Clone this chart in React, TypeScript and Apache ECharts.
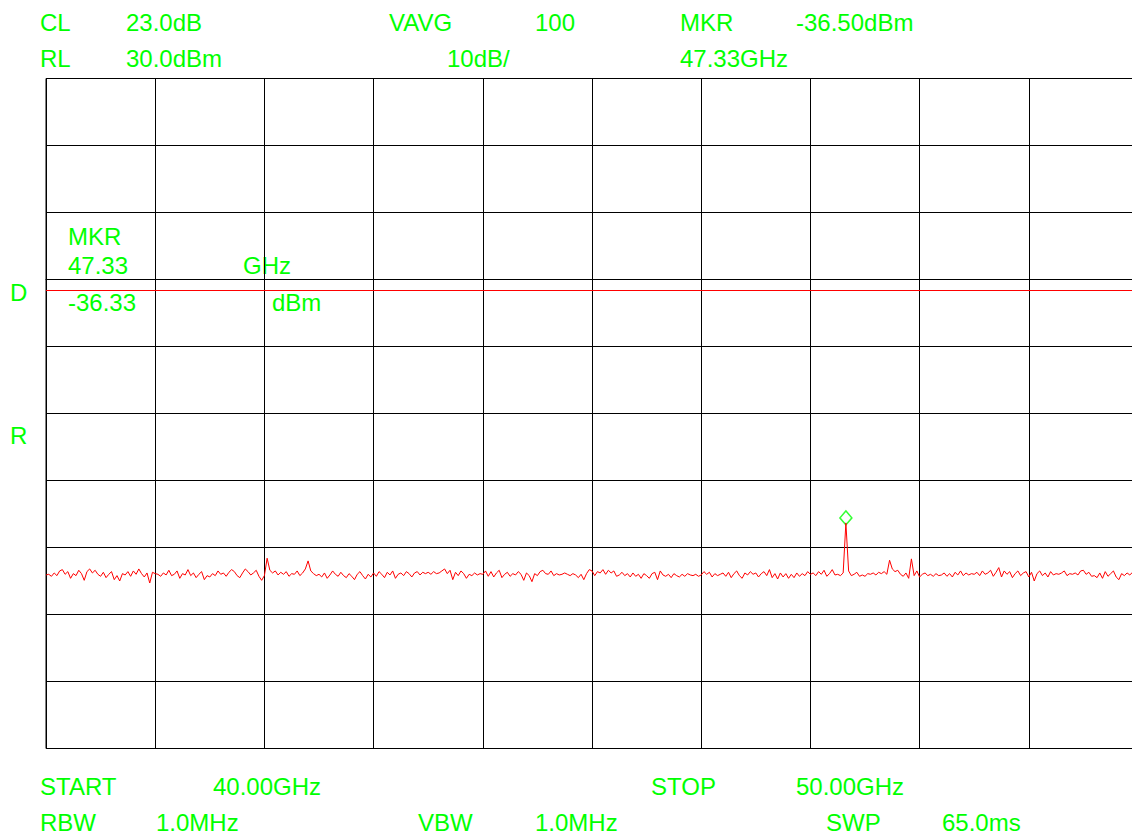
import React, { useEffect, useRef } from "react";
import * as echarts from "echarts";

// ---- instrument settings ----
const startGHz = 40;
const stopGHz = 50;
const refLevelDbm = 30;
const bottomDbm = -70;
const dbPerDiv = 10;
const freqPerDivGHz = 1;
const displayLineDbm = -1.6;
const markerIndex = 293;
const markerDbm = -36.33;

// ---- measured trace (dBm), 401 sweep points from START to STOP ----
const traceDbm = [
  -44.1, -44.0, -44.3, -43.8, -44.2, -43.5, -43.3, -44.0, -43.6, -44.6, -43.9, -44.2, -43.4, -43.9, -44.9, -43.6, -43.2, -43.8, -43.4, -44.0,
  -44.3, -43.7, -44.5, -44.0, -43.6, -44.8, -44.2, -45.0, -43.9, -44.1, -43.6, -44.3, -43.5, -44.0, -43.2, -43.9, -44.4, -43.8, -45.3, -43.7,
  -43.9, -44.0, -44.3, -43.8, -44.1, -43.4, -44.2, -44.0, -43.5, -44.6, -43.9, -44.1, -43.3, -44.2, -43.8, -44.5, -44.0, -43.6, -44.8, -44.2,
  -44.4, -43.9, -44.2, -43.5, -44.0, -43.8, -44.3, -43.7, -43.3, -43.6, -44.2, -44.5, -43.8, -43.2, -43.6, -44.1, -43.8, -43.4, -44.3, -44.9,
  -44.2, -41.6, -43.4, -43.8, -43.5, -44.1, -43.7, -44.0, -43.6, -44.3, -43.9, -44.0, -43.5, -44.2, -43.8, -43.2, -42.0, -43.5, -43.9, -44.2,
  -44.0, -44.4, -43.8, -44.6, -44.1, -43.5, -44.0, -44.3, -43.7, -44.2, -44.5, -43.9, -44.3, -44.8, -44.0, -43.6, -44.2, -44.7, -44.0, -44.4,
  -43.8, -44.3, -43.6, -44.0, -44.5, -43.7, -44.1, -43.5, -44.6, -44.0, -43.8, -44.2, -43.6, -43.9, -44.4, -43.8, -43.6, -44.1, -43.7, -43.9,
  -43.7, -44.0, -43.6, -43.9, -43.8, -43.5, -43.2, -43.9, -43.4, -44.8, -43.7, -44.2, -43.5, -43.9, -44.6, -44.0, -44.2, -43.8, -44.1, -43.9,
  -44.0, -43.5, -44.3, -43.6, -44.4, -43.8, -43.4, -44.5, -44.0, -43.7, -44.3, -43.9, -44.1, -43.6, -44.0, -44.9, -43.8, -44.2, -45.1, -43.9,
  -44.2, -43.6, -43.4, -43.9, -44.0, -43.5, -44.2, -43.9, -44.1, -44.0, -43.8, -44.0, -44.2, -43.9, -44.1, -44.5, -44.0, -44.8, -43.9, -43.3,
  -43.5, -44.2, -43.6, -43.8, -43.3, -44.0, -43.4, -43.8, -43.5, -44.3, -44.1, -43.7, -44.2, -43.9, -44.4, -43.8, -44.3, -44.0, -44.6, -43.9,
  -44.2, -44.6, -43.9, -43.7, -44.8, -43.5, -44.1, -44.3, -44.0, -44.5, -43.9, -44.2, -44.4, -44.0, -44.3, -43.9, -44.1, -44.2, -44.0, -44.3,
  -44.1, -43.6, -44.0, -43.7, -44.4, -43.9, -44.2, -44.0, -43.8, -44.3, -43.7, -44.5, -43.9, -43.5, -44.2, -44.6, -43.8, -44.1, -43.6, -44.0,
  -43.8, -44.4, -43.9, -43.6, -44.2, -43.3, -44.5, -43.9, -44.7, -43.8, -44.4, -43.9, -44.6, -44.0, -44.5, -43.8, -44.3, -43.9, -44.2, -43.6,
  -44.0, -43.8, -44.2, -43.6, -44.0, -43.4, -44.3, -43.9, -43.3, -44.1, -44.0, -44.2, -43.8, -36.33, -43.5, -44.2, -44.0, -43.7, -44.3, -44.1,
  -44.3, -43.9, -44.0, -43.8, -44.1, -43.7, -43.9, -43.6, -44.0, -41.9, -43.2, -43.6, -43.4, -44.0, -44.3, -43.8, -44.6, -41.7, -44.2, -43.5,
  -44.4, -44.0, -43.8, -44.2, -44.0, -44.3, -43.9, -44.2, -44.1, -43.8, -44.3, -43.9, -44.4, -43.7, -44.1, -43.5, -44.2, -43.8, -44.1, -43.9,
  -44.0, -43.7, -44.2, -43.5, -44.0, -43.8, -43.4, -44.3, -43.7, -43.0, -44.4, -43.5, -44.0, -43.6, -44.5, -43.9, -43.5, -44.2, -43.8, -43.6,
  -44.4, -43.7, -45.0, -43.9, -43.5, -44.2, -43.8, -44.4, -43.6, -44.1, -43.9, -44.0, -43.8, -43.5, -44.2, -43.9, -44.0, -43.8, -44.1, -43.5,
  -43.4, -44.0, -43.7, -44.3, -44.2, -44.5, -43.8, -44.6, -43.6, -44.3, -43.9, -43.5, -44.4, -44.8, -43.9, -44.2, -43.8, -44.1, -43.7, -44.0,
  -44.0,
];

// ---- annotation texts ----
const topRow1 = ["CL", "23.0dB", "VAVG", "100", "MKR", "-36.50dBm"];
const topRow2 = ["RL", "30.0dBm", "10dB/", "47.33GHz"];
const markerBox = ["MKR", "47.33", "GHz", "-36.33", "dBm"];
const sideLabels = ["D", "R"];
const bottomRow1 = ["START", "40.00GHz", "STOP", "50.00GHz"];
const bottomRow2 = ["RBW", "1.0MHz", "VBW", "1.0MHz", "SWP", "65.0ms"];

const GREEN = "#00ff00";
const FONT = '24px "Liberation Sans", Arial, sans-serif';

function txt(text: string, x: number, y: number) {
  return {
    type: "text",
    x,
    y,
    silent: true,
    style: { text, fill: GREEN, font: FONT, textVerticalAlign: "middle", textAlign: "left" },
  };
}

export default function App() {
  const ref = useRef<HTMLDivElement>(null);

  useEffect(() => {
    if (!ref.current) return;
    const chart = echarts.init(ref.current, null, { renderer: "svg" });
    const n = traceDbm.length;
    const step = (stopGHz - startGHz) / (n - 1);
    const data = traceDbm.map((v, i) => [startGHz + i * step, v]);
    const markerFreq = startGHz + markerIndex * step;

    const r1x = [40, 126, 389, 535, 680, 796];
    const r2x = [40, 126, 447, 680];
    const b1x = [40, 213, 651, 796];
    const b2x = [40, 156, 418, 535, 826, 942];

    const graphics: any[] = [];
    topRow1.forEach((t, i) => graphics.push(txt(t, r1x[i], 22)));
    topRow2.forEach((t, i) => graphics.push(txt(t, r2x[i], 58)));
    graphics.push(txt(markerBox[0], 68, 236));
    graphics.push(txt(markerBox[1], 68, 265));
    graphics.push(txt(markerBox[2], 243, 265));
    graphics.push(txt(markerBox[3], 68, 302));
    graphics.push(txt(markerBox[4], 272, 302));
    graphics.push(txt(sideLabels[0], 10, 292));
    graphics.push(txt(sideLabels[1], 10, 435));
    bottomRow1.forEach((t, i) => graphics.push(txt(t, b1x[i], 786)));
    bottomRow2.forEach((t, i) => graphics.push(txt(t, b2x[i], 822)));

    chart.setOption({
      animation: false,
      backgroundColor: "#ffffff",
      grid: {
        left: 46,
        top: 78.5,
        width: 1092,
        height: 670,
        show: true,
        borderColor: "#000",
        borderWidth: 1,
        backgroundColor: "transparent",
      },
      xAxis: {
        type: "value",
        min: startGHz,
        max: stopGHz,
        interval: freqPerDivGHz,
        axisLabel: { show: false },
        axisTick: { show: false },
        axisLine: { show: true, lineStyle: { color: "#000", width: 1 } },
        splitLine: { show: true, lineStyle: { color: "#000", width: 1 } },
      },
      yAxis: {
        type: "value",
        min: bottomDbm,
        max: refLevelDbm,
        interval: dbPerDiv,
        axisLabel: { show: false },
        axisTick: { show: false },
        axisLine: { show: true, lineStyle: { color: "#000", width: 1 } },
        splitLine: { show: true, lineStyle: { color: "#000", width: 1 } },
      },
      series: [
        {
          type: "line",
          data,
          showSymbol: false,
          symbol: "none",
          silent: true,
          lineStyle: { color: "#ff0000", width: 1 },
          markLine: {
            silent: true,
            symbol: ["none", "none"],
            label: { show: false },
            lineStyle: { color: "#ff0000", width: 1, type: "solid" },
            data: [{ yAxis: displayLineDbm }],
          },
        },
        {
          type: "scatter",
          data: [[markerFreq, markerDbm]],
          symbol: "diamond",
          symbolSize: [12, 14],
          symbolOffset: [0, -5],
          silent: true,
          itemStyle: { color: "#ffffff", borderColor: GREEN, borderWidth: 1.5 },
        },
      ],
      graphic: graphics,
    });
    return () => chart.dispose();
  }, []);

  return (
    <div
      style={{ position: "fixed", left: 0, top: 0, width: 1132, height: 834, overflow: "hidden", background: "#fff" }}
    >
      <div ref={ref} style={{ width: 1140, height: 834 }} />
    </div>
  );
}
